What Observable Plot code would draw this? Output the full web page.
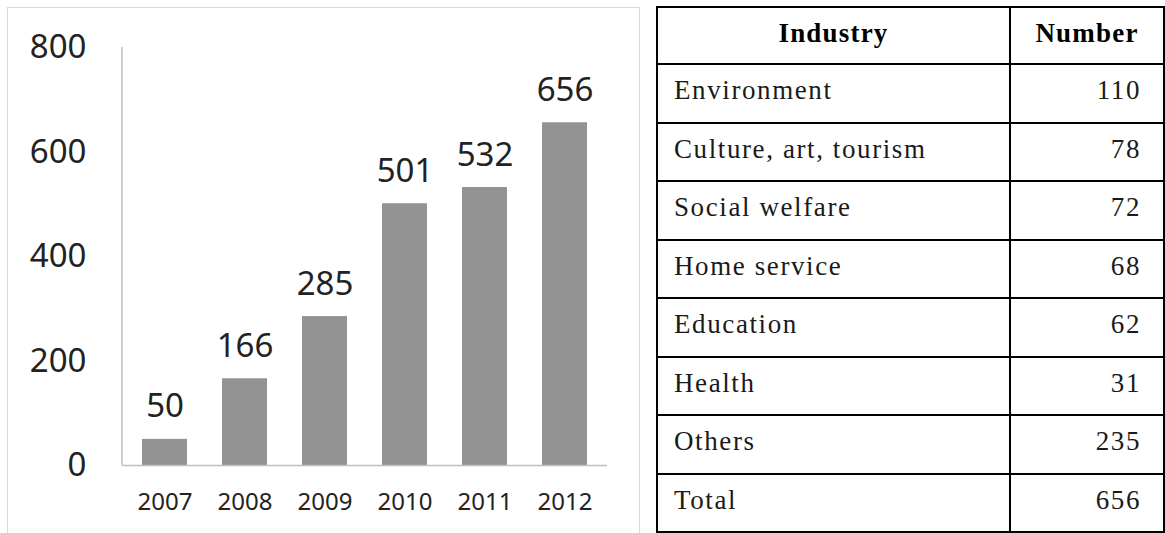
<!DOCTYPE html>
<html>
<head>
<meta charset="utf-8">
<script src="https://cdn.jsdelivr.net/npm/d3@7"></script>
<script src="https://cdn.jsdelivr.net/npm/@observablehq/plot@0.6"></script>
<style>
html, body { margin: 0; padding: 0; background: #fff; overflow: hidden; width: 1165px; height: 533px; }
#frame { position: absolute; left: 7px; top: 7px; width: 633px; height: 600px; border: 1px solid #d9d9d9; box-sizing: border-box; }
#chart { position: absolute; left: 0; top: 0; }
#tbl { position: absolute; left: 656px; top: 6px; width: 507px; height: 525px; border-collapse: collapse; table-layout: fixed;
  font-family: "Liberation Serif", "Times New Roman", serif; font-size: 27px; letter-spacing: 1.6px; color: #1a1a1a; }
#tbl td, #tbl th { border: 2px solid #000; padding: 0 22px 5px 16px; vertical-align: middle; white-space: nowrap; overflow: visible; }
#tbl th { font-weight: bold; text-align: center; color: #000; padding: 0 4px 5px 4px; letter-spacing: 1.2px; }
#tbl td.num { text-align: right; }
#tbl tr.head { height: 57px; }
#tbl tr.row { height: 58.5px; }
</style>
</head>
<body>
<div id="frame"></div>
<div id="chart"></div>
<table id="tbl"><colgroup><col style="width:353px"><col style="width:154px"></colgroup></table>
<script>
// Bar chart data
const years = ["2007", "2008", "2009", "2010", "2011", "2012"];
const counts = [50, 166, 285, 501, 532, 656];
const yTicks = [0, 200, 400, 600, 800];

// Table data
const tableHeaders = ["Industry", "Number"];
const industries = ["Environment", "Culture, art, tourism", "Social welfare", "Home service", "Education", "Health", "Others", "Total"];
const numbers = [110, 78, 72, 68, 62, 31, 235, 656];

const data = years.map((y, i) => ({year: y, value: counts[i]}));

const axisLine = (index, scales, values, dims) => {
  const ln = document.createElementNS("http://www.w3.org/2000/svg", "line");
  ln.setAttribute("x1", dims.marginLeft);
  ln.setAttribute("x2", dims.marginLeft);
  ln.setAttribute("y1", scales.y(yTicks[0]));
  ln.setAttribute("y2", scales.y(yTicks[yTicks.length - 1]));
  ln.setAttribute("stroke", "#bfbfbf");
  ln.setAttribute("stroke-width", "1.5");
  return ln;
};

const chart = Plot.plot({
  width: 640,
  height: 533,
  marginLeft: 122,
  marginRight: 33,
  marginTop: 47,
  marginBottom: 68,
  style: {fontFamily: "'Noto Sans', sans-serif", color: "#222", background: "transparent", overflow: "visible"},
  x: {domain: years, paddingInner: 0.44, paddingOuter: 0.22, label: null},
  y: {domain: [0, 800], label: null},
  marks: [
    Plot.barY(data, {x: "year", y: "value", fill: "#939393"}),
    Plot.ruleY([0], {stroke: "#bfbfbf", strokeWidth: 1.5}),
    axisLine,
    Plot.axisY({ticks: yTicks, tickSize: 0, tickPadding: 36, fontSize: 33, label: null, tickFormat: d => String(d)}),
    Plot.axisX({tickSize: 0, tickPadding: 27, fontSize: 24, label: null}),
    Plot.text(data, {x: "year", y: "value", text: d => String(d.value), lineAnchor: "bottom", dy: -22, fontSize: 33, fill: "#222"})
  ]
});
document.getElementById("chart").appendChild(chart);

// Table
const tbl = document.getElementById("tbl");
const hr = document.createElement("tr");
hr.className = "head";
tableHeaders.forEach(h => { const th = document.createElement("th"); th.textContent = h; hr.appendChild(th); });
tbl.appendChild(hr);
industries.forEach((name, i) => {
  const tr = document.createElement("tr");
  tr.className = "row";
  const a = document.createElement("td"); a.textContent = name;
  const b = document.createElement("td"); b.textContent = String(numbers[i]); b.className = "num";
  tr.appendChild(a); tr.appendChild(b);
  tbl.appendChild(tr);
});
</script>
</body>
</html>
